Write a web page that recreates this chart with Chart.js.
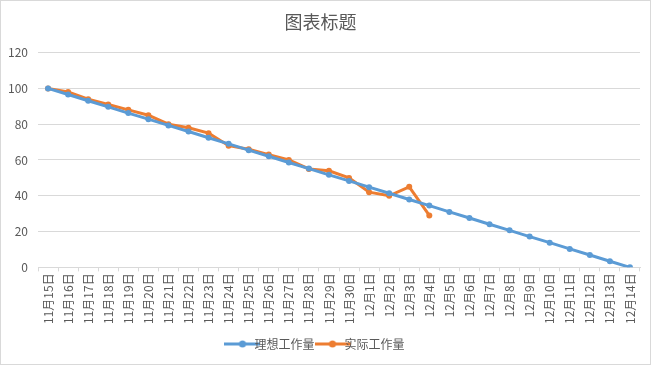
<!DOCTYPE html>
<html>
<head>
<meta charset="utf-8">
<script src="https://cdn.jsdelivr.net/npm/chart.js@4"></script>
<style>
    body { margin: 0; background: #fff; }
    #wrap { width: 649px; height: 363px; border: 1px solid #d9d9d9; }
</style>
</head>
<body>
<div id="wrap"><canvas id="burnChart" width="649" height="363"></canvas></div>
<script>
const dias = ['11月15日','11月16日','11月17日','11月18日','11月19日','11月20日','11月21日','11月22日','11月23日','11月24日',
    '11月25日','11月26日','11月27日','11月28日','11月29日','11月30日','12月1日','12月2日','12月3日','12月4日',
    '12月5日','12月6日','12月7日','12月8日','12月9日','12月10日','12月11日','12月12日','12月13日','12月14日'];
const ideal = [100, 96.6, 93.1, 89.7, 86.2, 82.8, 79.3, 75.9, 72.4, 69, 65.5, 62.1, 58.6, 55.2, 51.7,
    48.3, 44.8, 41.4, 37.9, 34.5, 31, 27.6, 24.1, 20.7, 17.2, 13.8, 10.3, 6.9, 3.4, 0];
const actual = [100, 98, 94, 91, 88, 85, 80, 78, 75, 68, 66, 63, 60, 55, 54, 50, 42, 40, 45, 29];
const yTicks = [0, 20, 40, 60, 80, 100, 120];

// legend marker: line with dot
function legendIcon(color) {
    const c = document.createElement('canvas');
    c.width = 36; c.height = 10;
    const g = c.getContext('2d');
    g.strokeStyle = color; g.lineWidth = 3;
    g.beginPath(); g.moveTo(0, 5); g.lineTo(36, 5); g.stroke();
    g.fillStyle = color;
    g.beginPath(); g.arc(18, 5, 3.5, 0, Math.PI * 2); g.fill();
    return c;
}
const icons = [legendIcon('#5B9BD5'), legendIcon('#ED7D31')];

const ctx = document.getElementById('burnChart').getContext('2d');
new Chart(ctx, {
    type: 'line',
    data: {
        labels: dias,
        datasets: [
            { label: '理想工作量', data: ideal, borderColor: '#5B9BD5', backgroundColor: '#5B9BD5',
              borderWidth: 3, pointRadius: 3, pointBorderWidth: 0, pointStyle: 'circle', tension: 0 },
            { label: '实际工作量', data: actual, borderColor: '#ED7D31', backgroundColor: '#ED7D31',
              borderWidth: 3, pointRadius: 3, pointBorderWidth: 0, pointStyle: 'circle', tension: 0 }
        ]
    },
    options: {
        responsive: false,
        animation: false,
        layout: { padding: { left: 0, right: 10, top: 4, bottom: 4 } },
        plugins: {
            title: { display: true, text: '图表标题', color: '#595959',
                font: { family: '"Noto Sans CJK SC"', size: 18, weight: 'normal' }, padding: { top: 6, bottom: 20 } },
            legend: { position: 'bottom',
                labels: { usePointStyle: true, color: '#595959', padding: 12,
                    font: { family: '"Noto Sans CJK SC"', size: 12 },
                    generateLabels: chart => {
                        const items = Chart.defaults.plugins.legend.labels.generateLabels(chart);
                        items.forEach((it, i) => { it.pointStyle = icons[i]; });
                        return items;
                    } } },
            tooltip: { enabled: false }
        },
        scales: {
            x: {
                offset: true,
                afterFit: a => { a.paddingLeft = 0; a.paddingRight = 0; },
                grid: { display: true, drawOnChartArea: false, color: '#d9d9d9', tickLength: 4, offset: true },
                border: { color: '#d9d9d9' },
                ticks: { color: '#595959', maxRotation: 90, minRotation: 90, autoSkip: false, padding: 2,
                    font: { family: '"Noto Sans CJK SC"', size: 12 } }
            },
            y: {
                min: 0, max: 120,
                afterBuildTicks: axis => { axis.ticks = yTicks.map(v => ({ value: v })); },
                afterFit: a => { a.width = 37; },
                grid: { color: '#d9d9d9', drawTicks: false },
                border: { display: false },
                ticks: { color: '#595959', padding: 10, font: { family: '"Noto Sans CJK SC"', size: 12 } }
            }
        }
    }
});
</script>
</body>
</html>
